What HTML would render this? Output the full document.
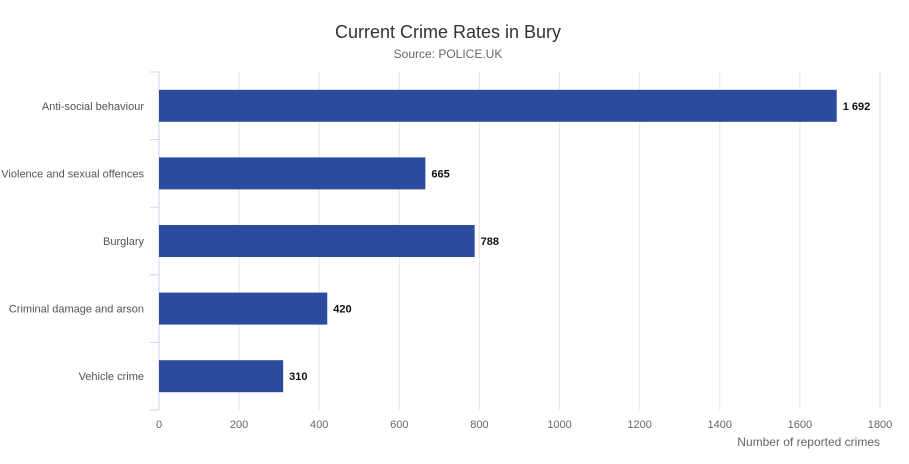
<!DOCTYPE html>
<html><head><meta charset="utf-8"><style>
body{margin:0;background:#fff;width:909px;height:459px;overflow:hidden;font-family:"Liberation Sans",sans-serif}
</style></head><body>
<svg id="chart" width="909" height="459" xmlns="http://www.w3.org/2000/svg">
<text x="448" y="38" text-anchor="middle" font-size="18" fill="#333">Current Crime Rates in Bury</text>
<text x="448" y="58" text-anchor="middle" font-size="12" fill="#666">Source: POLICE.UK</text>
<g id="grid"></g><g id="bars"></g><g id="labels"></g>
<text x="880" y="446" text-anchor="end" font-size="12" fill="#666">Number of reported crimes</text>
</svg>
<script>
const categories=["Anti-social behaviour","Violence and sexual offences","Burglary","Criminal damage and arson","Vehicle crime"];
const values=[1692,665,788,420,310];
const valueLabels=["1 692","665","788","420","310"];
const ticks=[0,200,400,600,800,1000,1200,1400,1600,1800];
const NS="http://www.w3.org/2000/svg";
const x0=159,x1=880,plotTop=72,plotBottom=410,maxV=1800;
const xs=v=>x0+(v/maxV)*(x1-x0);
const band=(plotBottom-plotTop)/categories.length;
const yc=i=>plotTop+band*(i+0.5);
function mk(t,a,parent){const e=document.createElementNS(NS,t);for(const k in a)e.setAttribute(k,a[k]);parent.appendChild(e);return e;}
const g=document.getElementById('grid'),b=document.getElementById('bars'),l=document.getElementById('labels');
ticks.forEach(t=>{
 const ln=mk('line',{x1:xs(t),x2:xs(t),y1:plotTop,y2:plotBottom,stroke:t===0?'#ccd6eb':'#e6e6e6','stroke-width':1},g);
 
 
 const tx=mk('text',{x:xs(t),y:428,'text-anchor':'middle','font-size':11,fill:'#666'},l);
 tx.textContent=t;
 
 
});
for(let i=0;i<=categories.length;i++){
 const tk=mk('line',{x1:150,x2:159,y1:plotTop+band*i,y2:plotTop+band*i,stroke:'#ccd6eb'},g);
 
 
}
categories.forEach((c,i)=>{
 const r=mk('rect',{x:x0,y:yc(i)-16,width:xs(values[i])-x0,height:32,fill:'#2c4a9e'},b);
 
 
 const cl=mk('text',{x:144,y:yc(i)+4,'text-anchor':'end','font-size':11,fill:'#555'},l);
 cl.textContent=c;
 
 
 const vl=mk('text',{x:xs(values[i])+6,y:yc(i)+4,'font-size':11,'font-weight':'bold',fill:'#111'},l);
 vl.textContent=valueLabels[i];
 
 
});
</script>
</body></html>
